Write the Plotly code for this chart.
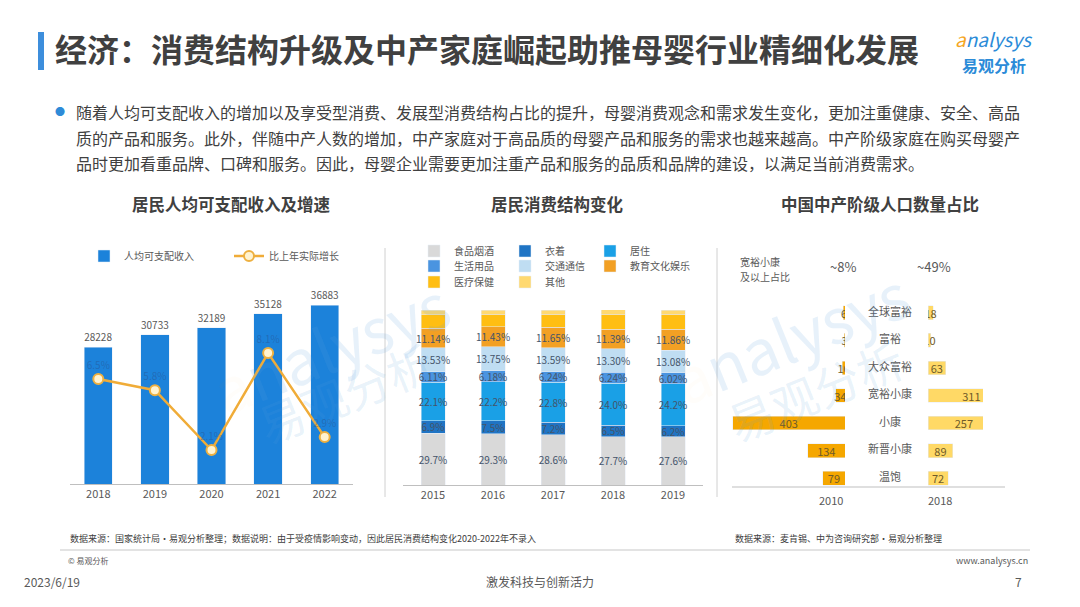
import plotly.graph_objects as go

W, H = 1080, 607
PAGE_MARGIN = 8  # browser body margin around the plot div
FONT = "Noto Sans CJK SC"

# 居民人均可支配收入及增速
income_years = ["2018", "2019", "2020", "2021", "2022"]
income = [28228, 30733, 32189, 35128, 36883]
growth = [6.5, 5.8, 2.1, 8.1, 2.9]

# 居民消费结构变化 (%)
spend_years = ["2015", "2016", "2017", "2018", "2019"]
food = [29.7, 29.3, 28.6, 27.7, 27.6]
clothing = [6.9, 7.5, 7.2, 6.5, 6.2]
housing = [22.1, 22.2, 22.8, 24.0, 24.2]
household = [6.11, 6.18, 6.24, 6.24, 6.02]
transport = [13.53, 13.75, 13.59, 13.30, 13.08]
education = [11.14, 11.43, 11.65, 11.39, 11.86]
medical = [7.8, 7.2, 7.5, 8.5, 8.6]
other = [2.7, 2.4, 2.4, 2.4, 2.4]

# 中国中产阶级人口数量 (百万)
classes = ["全球富裕", "富裕", "大众富裕", "宽裕小康", "小康", "新晋小康", "温饱"]
pop_2010 = [6, 3, 10, 34, 403, 134, 79]
pop_2018 = [18, 10, 63, 311, 257, 89, 72]


def fx(p):
    return (p - PAGE_MARGIN) / W


def fy(p):
    return 1 - (p - PAGE_MARGIN) / H


fig = go.Figure()

# ---- left chart: income bars + growth line
fig.add_trace(go.Bar(
    x=income_years, y=income, name="人均可支配收入", width=0.5,
    marker=dict(color="#1C82DA"), texttemplate="%{y:.0f}", textposition="outside",
    textfont=dict(size=10, color="#595959"), cliponaxis=False, textangle=0,
    xaxis="x", yaxis="y", legend="legend",
))
fig.add_trace(go.Scatter(
    x=income_years, y=growth, name="比上年实际增长", mode="lines+markers+text",
    line=dict(color="#F0AC38", width=2.5),
    marker=dict(size=10, color="#FFF3D0", line=dict(color="#EDB040", width=2)),
    texttemplate="%{y:.1f}%", textposition="top center",
    textfont=dict(size=10, color="rgba(40,80,140,0.45)"), cliponaxis=False,
    xaxis="x", yaxis="y2", legend="legend",
))

# ---- middle chart: stacked structure
segments = [
    ("食品烟酒", food, "#D9D9D9", ".1f", "legend2"),
    ("衣着", clothing, "#1F74C4", ".1f", "legend2"),
    ("居住", housing, "#1AA0E6", ".1f", "legend5"),
    ("生活用品", household, "#4A94E0", ".2f", "legend3"),
    ("交通通信", transport, "#BFDDF2", ".2f", "legend3"),
    ("教育文化娱乐", education, "#F2A024", ".2f", "legend6"),
    ("医疗保健", medical, "#FFBE12", None, "legend4"),
    ("其他", other, "#FFD970", None, "legend4"),
]
for name, vals, color, fmt, leg in segments:
    fig.add_trace(go.Bar(
        x=spend_years, y=vals, name=name, width=0.4, marker=dict(color=color),
        texttemplate=("%{y:" + fmt + "}%") if fmt else None,
        textposition="inside" if fmt else "none", insidetextanchor="middle",
        constraintext="none", textangle=0, textfont=dict(size=10, color="#44546A"),
        xaxis="x2", yaxis="y3", legend=leg,
    ))

# ---- right chart: population pyramid
fig.add_trace(go.Bar(
    y=classes, x=pop_2010, orientation="h", width=0.5, name="2010",
    marker=dict(color="#F5A700"), texttemplate="%{x}", textposition="inside",
    insidetextanchor="middle", constraintext="none", textangle=0,
    textfont=dict(size=11, color="#6E5B2A"), showlegend=False,
    xaxis="x3", yaxis="y4",
))
fig.add_trace(go.Bar(
    y=classes, x=pop_2018, orientation="h", width=0.5, name="2018",
    marker=dict(color="#FFD966"), texttemplate="%{x}", textposition="inside",
    insidetextanchor="middle", constraintext="none", textangle=0,
    textfont=dict(size=11, color="#6E5B2A"), showlegend=False,
    xaxis="x4", yaxis="y4",
))
fig.add_trace(go.Scatter(
    y=classes, x=[0] * len(classes), mode="text", text=classes,
    textfont=dict(size=11, color="#595959"), showlegend=False,
    xaxis="x5", yaxis="y4", hoverinfo="skip",
))

hidden = dict(visible=False, fixedrange=True)
legend_style = dict(orientation="h", font=dict(size=10, color="#595959", family=FONT),
                    bgcolor="rgba(0,0,0,0)", itemwidth=30, entrywidthmode="pixels",
                    xanchor="left", yanchor="middle", tracegroupgap=0, traceorder="normal")
row_style = dict(legend_style, entrywidth=46)

fig.update_layout(
    width=W, height=H, margin=dict(l=0, r=0, t=0, b=0),
    paper_bgcolor="white", plot_bgcolor="rgba(0,0,0,0)",
    font=dict(family=FONT, color="#404040"),
    barmode="stack",
    xaxis=dict(domain=[fx(70), fx(353)], type="category", showline=True, linecolor="#BFBFBF",
               ticks="", tickfont=dict(size=11, color="#595959"), anchor="y"),
    yaxis=dict(domain=[fy(484), fy(290)], range=[0, 40000], **hidden),
    yaxis2=dict(overlaying="y", range=[0, 12], **hidden),
    xaxis2=dict(domain=[fx(403), fx(703)], type="category", showline=True, linecolor="#BFBFBF",
                ticks="", tickfont=dict(size=11, color="#595959"), anchor="y3"),
    yaxis3=dict(domain=[fy(485), fy(310)], range=[0, 100], anchor="x2", **hidden),
    xaxis3=dict(domain=[fx(725), fx(845)], range=[430, 0], anchor="y4", **hidden),
    xaxis4=dict(domain=[fx(928), fx(983)], range=[0, 197], anchor="y4", **hidden),
    xaxis5=dict(domain=[fx(845), fx(935)], range=[-1, 1], anchor="y4", **hidden),
    yaxis4=dict(domain=[fy(492), fy(299)], type="category", autorange="reversed",
                anchor="x3", **hidden),
    legend=dict(x=fx(84), y=fy(256), entrywidth=100, **legend_style),
    legend2=dict(x=fx(414), y=fy(251), **row_style),
    legend3=dict(x=fx(414), y=fy(266), **row_style),
    legend4=dict(x=fx(414), y=fy(282), **row_style),
    legend5=dict(x=fx(590), y=fy(251), **legend_style),
    legend6=dict(x=fx(590), y=fy(266), **legend_style),
)

shapes = [
    dict(type="rect", xref="paper", yref="paper", x0=fx(38), x1=fx(44), y0=fy(70), y1=fy(32),
         fillcolor="#3D8EDC", line=dict(width=0)),
    dict(type="line", xref="paper", yref="paper", x0=fx(385), x1=fx(385), y0=fy(497), y1=fy(248),
         line=dict(color="#D0D0D0", width=1)),
    dict(type="line", xref="paper", yref="paper", x0=fx(717), x1=fx(717), y0=fy(497), y1=fy(248),
         line=dict(color="#D0D0D0", width=1)),
    dict(type="line", xref="paper", yref="paper", x0=fx(732), x1=fx(1005), y0=fy(487), y1=fy(487),
         line=dict(color="#BFBFBF", width=1)),
    dict(type="line", xref="paper", yref="paper", x0=fx(60), x1=fx(1030), y0=fy(550), y1=fy(550),
         line=dict(color="#E3E3E3", width=2)),
]
fig.update_layout(shapes=shapes)


def note(text, x, y, size, color="#404040", xanchor="left", angle=0):
    fig.add_annotation(text=text, x=fx(x), y=fy(y), xref="paper", yref="paper",
                       xanchor=xanchor, yanchor="middle", showarrow=False, textangle=angle,
                       align=xanchor if xanchor != "middle" else "center",
                       font=dict(size=size, color=color, family=FONT))


note("<b>经济：消费结构升级及中产家庭崛起助推母婴行业精细化发展</b>", 53, 48, 32, "#404040")
note("<span style='color:#F5A623'><i>a</i></span><i>nalysys</i>", 994, 38, 19, "#2B8BD8", "center")
note("<b>易观分析</b>", 994, 65, 16, "#2B8BD8", "center")

note("●", 60, 112, 10, "#2E8BD8", "center")
note("随着人均可支配收入的增加以及享受型消费、发展型消费结构占比的提升，母婴消费观念和需求发生变化，更加注重健康、安全、高品",
     74, 112, 16, "#404040")
note("质的产品和服务。此外，伴随中产人数的增加，中产家庭对于高品质的母婴产品和服务的需求也越来越高。中产阶级家庭在购买母婴产",
     74, 138, 16, "#404040")
note("品时更加看重品牌、口碑和服务。因此，母婴企业需要更加注重产品和服务的品质和品牌的建设，以满足当前消费需求。",
     74, 163, 16, "#404040")

note("<b>居民人均可支配收入及增速</b>", 231, 204, 16.5, "#404040", "center")
note("<b>居民消费结构变化</b>", 557, 204, 16.5, "#404040", "center")
note("<b>中国中产阶级人口数量占比</b>", 880, 204, 16.5, "#404040", "center")

note("宽裕小康", 738, 262, 10, "#595959")
note("及以上占比", 738, 276, 10, "#595959")
note("~8%", 843, 266, 13, "#595959", "center")
note("~49%", 934, 266, 13, "#595959", "center")
note("2010", 831, 500, 11, "#595959", "center")
note("2018", 940, 500, 11, "#595959", "center")

note("数据来源：国家统计局·易观分析整理；数据说明：由于受疫情影响变动，因此居民消费结构变化2020-2022年不录入",
     68, 538, 9, "#404040")
note("数据来源：麦肯锡、中为咨询研究部·易观分析整理", 733, 538, 9, "#404040")
note("© 易观分析", 66, 560, 8, "#595959")
note("www.analysys.cn", 1030, 560, 9, "#595959", "right")
note("2023/6/19", 22, 581, 12, "#595959")
note("激发科技与创新活力", 540, 581, 12, "#595959", "center")
note("7", 1018, 581, 12, "#595959", "center")

# faint watermarks
wm = "rgba(91,160,220,0.15)"
note("<span style='color:rgba(245,166,35,0.15)'>a</span>nalysys", 330, 345, 62, wm, "center", -22)
note("易观分析", 345, 392, 46, wm, "center", -22)
note("<span style='color:rgba(245,166,35,0.15)'>a</span>nalysys", 790, 335, 62, wm, "center", -22)
note("易观分析", 815, 390, 46, wm, "center", -22)

fig.write_html("out.html")
